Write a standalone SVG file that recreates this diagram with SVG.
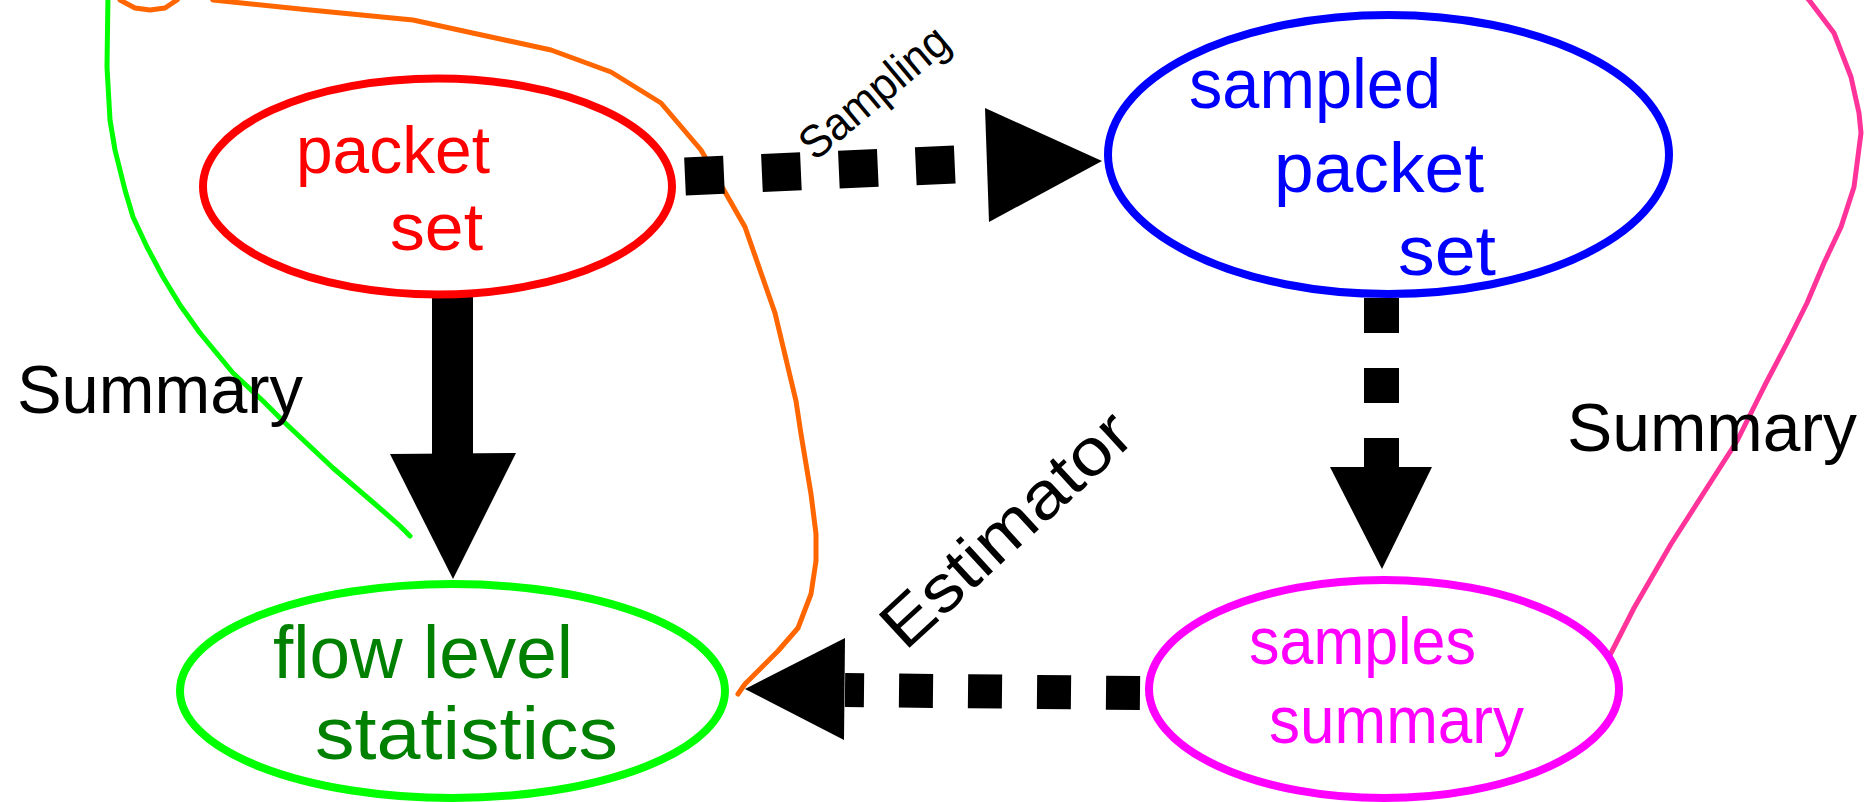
<svg xmlns="http://www.w3.org/2000/svg" width="1873" height="802" viewBox="0 0 1873 802">
  <style>
    .lbl { font-family: "Liberation Sans", "DejaVu Sans", sans-serif; }
    .node { fill: #ffffff; stroke-width: 8; }
    .free { fill: none; stroke-width: 5; stroke-linejoin: round; stroke-linecap: round; }
    .dash { fill: none; stroke: #000000; stroke-linecap: butt; }
  </style>
  <rect width="1873" height="802" fill="#ffffff"/>

  <!-- freehand outlines around the summary paths -->
  <g id="outlines">
    <path class="free" stroke="#ff6600" d="M112,-20 L120,0 L135,8 L150,10 L165,8 L177,0 L185,-12 M205,-12 L213,0 L300,9 L413,20 L468,32 L551,50 L611,72 L661,103 L701,150 L745,227 L775,313 L796,401 L801,434 L811,494 L816,534 L816,561 L811,594 L798,628 L778,651 L758,671 L745,684 L738,694"/>
    <path class="free" stroke="#00ff00" d="M108,-5 L107,67 L110,120 L115,150 L125,190 L133,217 L147,247 L163,277 L180,305 L200,333 L233,373 L263,401 L283,421 L333,468 L383,511 L400,526 L410,536"/>
    <path class="free" stroke="#ff3399" d="M1800,-10 L1809,0 L1834,33 L1851,77 L1859,113 L1861,133 L1854,187 L1841,227 L1824,263 L1807,303 L1787,343 L1766,383 L1757,401 L1737,441 L1671,544 L1634,608 L1607,661"/>
  </g>

  <g id="connectors">
    <!-- packet set -> flow level statistics (solid) -->
    <rect x="432" y="297" width="41" height="158" fill="#000000"/>
    <polygon points="390,454 516,453 453,579" fill="#000000"/>
    <!-- packet set -> sampled packet set (dashed) -->
    <line class="dash" x1="685" y1="176.5" x2="987" y2="163" stroke-width="38" stroke-dasharray="39 38"/>
    <polygon points="985,108 989,222 1102,161" fill="#000000"/>
    <!-- sampled packet set -> samples summary (dashed) -->
    <line class="dash" x1="1381.5" y1="298" x2="1381.5" y2="468" stroke-width="35" stroke-dasharray="35 35"/>
    <polygon points="1330,467 1432,467 1382,569" fill="#000000"/>
    <!-- samples summary -> flow level statistics (dashed) -->
    <line class="dash" x1="1140" y1="693" x2="845" y2="690" stroke-width="34" stroke-dasharray="34 35"/>
    <polygon points="845,638 844,740 745,689" fill="#000000"/>
  </g>

  <g id="edge-labels" class="lbl" fill="#000000">
    <text x="815" y="162" font-size="46" textLength="180" lengthAdjust="spacingAndGlyphs" transform="rotate(-40 815 162)">Sampling</text>
    <text x="905" y="652" font-size="66" textLength="315" lengthAdjust="spacingAndGlyphs" transform="rotate(-42.5 905 652)">Estimator</text>
    <text x="17" y="413" font-size="68" textLength="286" lengthAdjust="spacingAndGlyphs">Summary</text>
    <text x="1567" y="451" font-size="68" textLength="290" lengthAdjust="spacingAndGlyphs">Summary</text>
  </g>

  <g id="packet-set">
    <ellipse class="node" cx="437.5" cy="186.5" rx="234.5" ry="108" stroke="#ff0000"/>
    <g class="lbl" fill="#ff0000" font-size="66">
      <text x="296" y="173" textLength="194" lengthAdjust="spacingAndGlyphs">packet</text>
      <text x="390" y="250" textLength="93" lengthAdjust="spacingAndGlyphs">set</text>
    </g>
  </g>

  <g id="sampled-packet-set">
    <ellipse class="node" cx="1388.5" cy="154.5" rx="280.5" ry="139.5" stroke="#0000ff"/>
    <g class="lbl" fill="#0000ff" font-size="70">
      <text x="1189" y="108" textLength="252" lengthAdjust="spacingAndGlyphs">sampled</text>
      <text x="1274" y="192" textLength="210" lengthAdjust="spacingAndGlyphs">packet</text>
      <text x="1398" y="275" textLength="98" lengthAdjust="spacingAndGlyphs">set</text>
    </g>
  </g>

  <g id="flow-level-statistics">
    <ellipse class="node" cx="452.5" cy="691" rx="272.5" ry="107" stroke="#00ff00"/>
    <g class="lbl" fill="#008000" font-size="74">
      <text x="273" y="678" textLength="300" lengthAdjust="spacingAndGlyphs">flow level</text>
      <text x="315" y="759" textLength="303" lengthAdjust="spacingAndGlyphs">statistics</text>
    </g>
  </g>

  <g id="samples-summary">
    <ellipse class="node" cx="1384" cy="689" rx="235" ry="109" stroke="#ff00ff"/>
    <g class="lbl" fill="#ff00ff" font-size="66">
      <text x="1249" y="664" textLength="227" lengthAdjust="spacingAndGlyphs">samples</text>
      <text x="1269" y="743" textLength="255" lengthAdjust="spacingAndGlyphs">summary</text>
    </g>
  </g>
</svg>
